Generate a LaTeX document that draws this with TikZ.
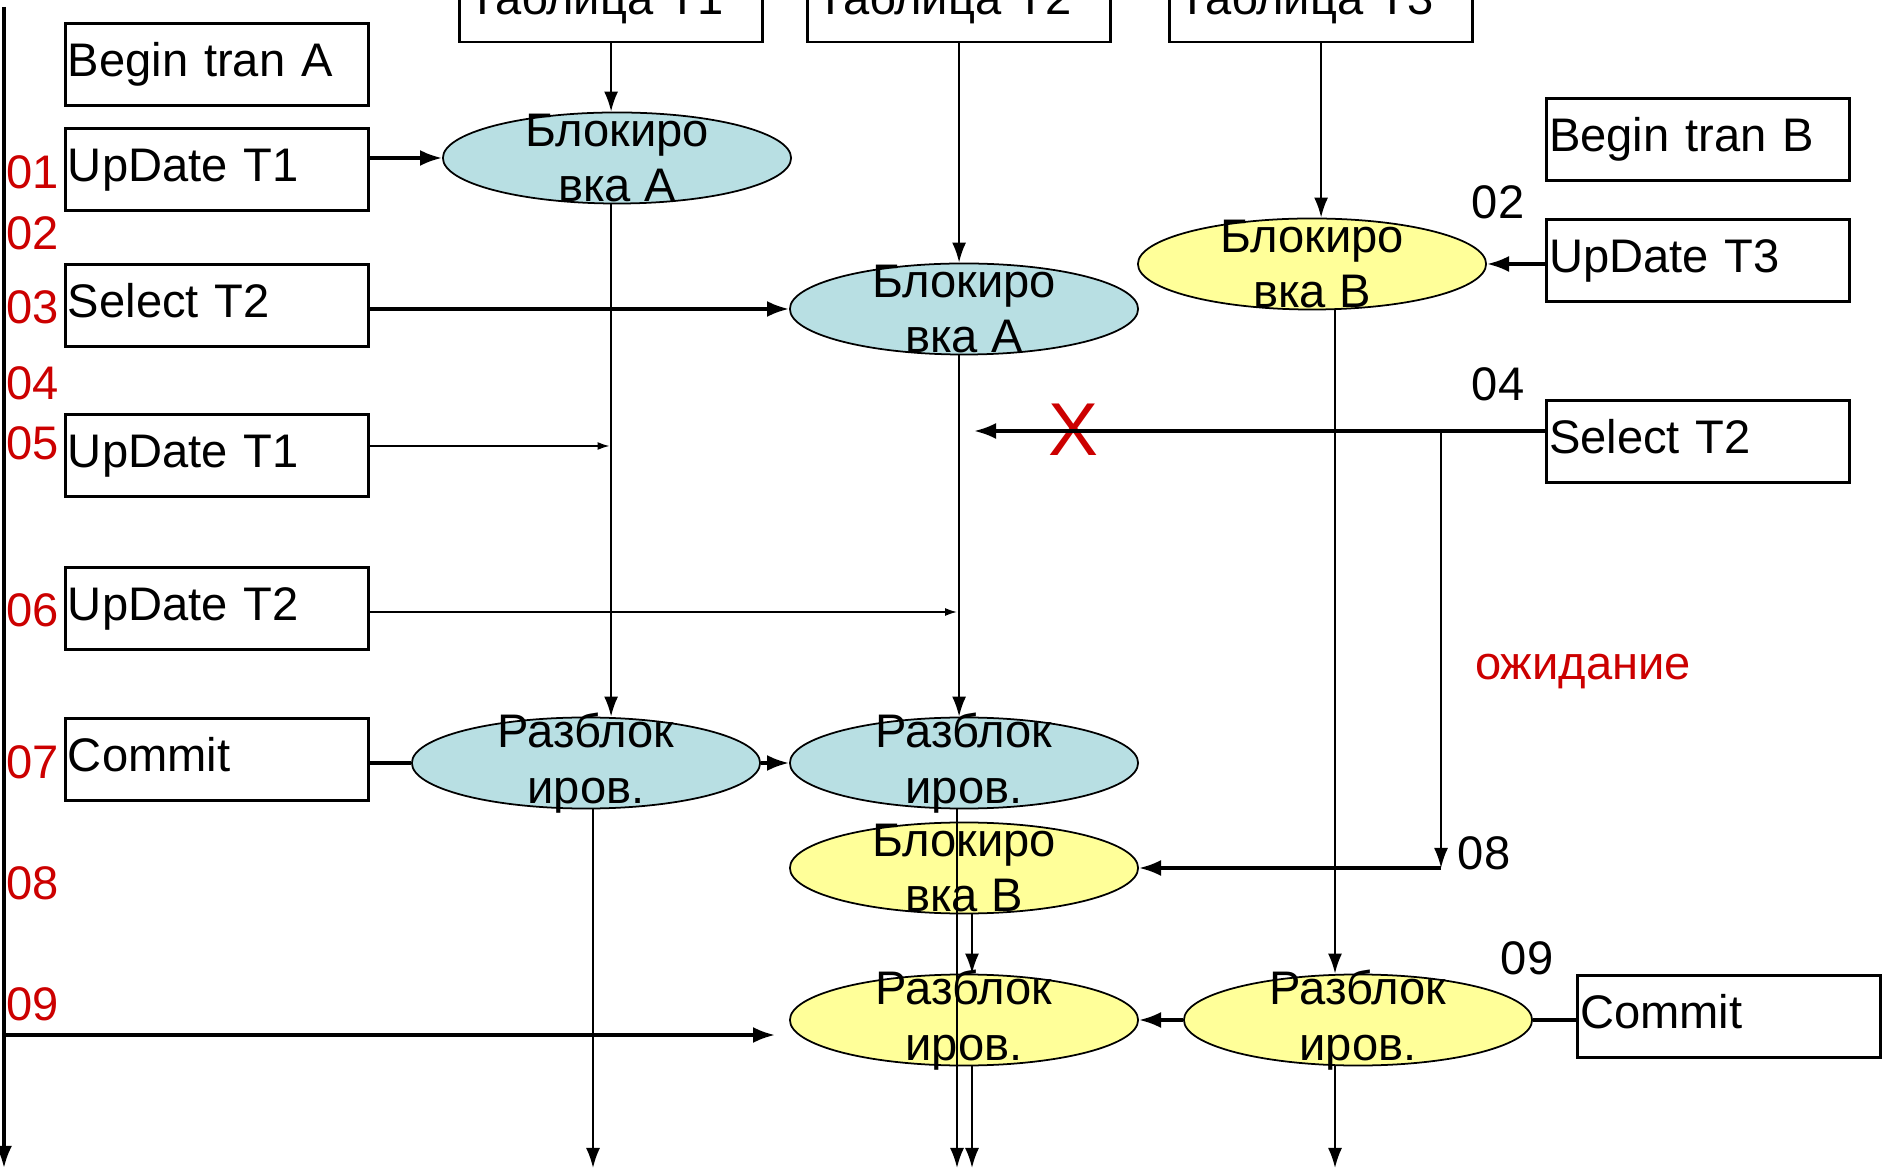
\documentclass[tikz,border=0pt]{standalone}
\usepackage{fontspec}
\setmainfont{Liberation Sans}
\usetikzlibrary{shapes.geometric,arrows.meta}
\definecolor{lockblue}{HTML}{B8DFE3}
\definecolor{lockyellow}{HTML}{FFFF99}
\definecolor{stepred}{HTML}{CC0000}
\newcommand{\boxfont}{\fontsize{13.4}{15.9}\selectfont}

\begin{document}
\begin{tikzpicture}[
  x=0.01cm,y=-0.01cm,
  opbox/.style={draw,line width=0.85pt,anchor=north west,text width=2.98cm,inner xsep=0.025cm,
    minimum height=0.82cm,text height=0.34cm,text depth=0.1cm,align=left,font=\boxfont},
  tblbox/.style={draw,line width=0.85pt,anchor=base west,text width=2.85cm,inner xsep=0.09cm,
    inner ysep=0.27cm,text height=0.35cm,text depth=0pt,align=left,font=\boxfont},
  oval/.style={ellipse,draw,line width=0.5pt,minimum width=3.48cm,minimum height=0.91cm,inner sep=0pt},
  blueoval/.style={oval,fill=lockblue},
  yellowoval/.style={oval,fill=lockyellow},
  otext/.style={align=center,font=\boxfont,inner sep=0pt},
  num/.style={font=\boxfont,text=stepred,anchor=west,inner sep=0pt},
  tag/.style={font=\boxfont,inner sep=0pt},
  flow/.style={line width=0.6pt,-{Latex[length=0.2cm,width=0.14cm]}},
  boldflow/.style={line width=0.95pt,-{Latex[length=0.22cm,width=0.16cm]}},
  thinflow/.style={line width=0.45pt,-{Latex[length=0.12cm,width=0.08cm]}}
]
\useasboundingbox (0,0) rectangle (1883,1168);
\clip (0,0) rectangle (1883,1168);

\node[tblbox] (t1) at (458,15) {Таблица T1};
\node[tblbox] (t2) at (806,15) {Таблица T2};
\node[tblbox] (t3) at (1168,15) {Таблица T3};

\node[opbox] (begA) at (64,22) {Begin tran A};
\node[opbox] (updA1) at (64,127) {UpDate T1};
\node[opbox] (selA) at (64,263) {Select T2};
\node[opbox] (upd05) at (64,413) {UpDate T1};
\node[opbox] (upd06) at (64,566) {UpDate T2};
\node[opbox] (comA) at (64,717) {Commit};
\node[opbox] (begB) at (1545,97) {Begin tran B};
\node[opbox] (updB3) at (1545,218) {UpDate T3};
\node[opbox] (selB) at (1545,399) {Select T2};
\node[opbox] (comB) at (1576,974) {Commit};

\node[blueoval,label={[otext]center:Блокиро\\вка А}] (l1) at (617,158) {};
\node[blueoval,label={[otext]center:Блокиро\\вка А}] (l2) at (964,309) {};
\node[yellowoval,label={[otext]center:Блокиро\\вка В}] (l3) at (1312,264) {};
\node[blueoval,label={[otext]center:Разблок\\иров.}] (u1) at (586,763) {};
\node[blueoval,label={[otext]center:Разблок\\иров.}] (u2) at (964,763) {};
\node[yellowoval,label={[otext]center:Блокиро\\вка В}] (l4) at (964,868) {};
\node[yellowoval,label={[otext]center:Разблок\\иров.}] (u4) at (964,1020) {};
\node[yellowoval,label={[otext]center:Разблок\\иров.}] (u3) at (1358,1020) {};

\foreach \n/\y in {01/172,02/233,03/307,04/383,05/443,06/610,07/762,08/883,09/1004}
  \node[num] (n\n) at (6,\y) {\n};
\node[tag] (b02) at (1498,202) {02};
\node[tag] (b04) at (1498,384) {04};
\node[tag] (b08) at (1484,853) {08};
\node[tag] (b09) at (1527,958) {09};
\node[font=\boxfont,text=stepred,anchor=base] (wait) at (1583,680) {ожидание};
\node[font=\fontsize{21.3}{24}\selectfont,text=stepred,inner sep=0pt] (cross) at (1073,430) {X};

\coordinate (tlTop) at (4,7);
\coordinate (tlEnd) at (4,1168);
\coordinate (h05) at (609.5,446);
\coordinate (h06) at (957,612);
\coordinate (h09) at (775,1035);
\coordinate (stopX) at (974,431);
\coordinate (fork) at (1441,431);
\coordinate (turn) at (1441,868);
\coordinate (end1) at (593,1168);
\coordinate (end2) at (957,1168);
\coordinate (end4) at (972,1168);
\coordinate (end3) at (1335,1168);

\draw[boldflow] (tlTop) -- (tlEnd);
\draw[boldflow] (tlTop |- h09) -- (h09);
\draw[flow] (t1) -- (t1 |- l1.north);
\draw[flow] (t2) -- (t2 |- l2.north);
\draw[flow] (t3) -- (t3 |- l3.north);
\draw[boldflow] (updA1.east |- l1.west) -- (l1.west);
\draw[boldflow] (selA.east |- l2.west) -- (l2.west);
\draw[boldflow] (updB3.west |- l3.east) -- (l3.east);
\draw[flow] (t1 |- l1.south) -- (t1 |- u1.north);
\draw[flow] (t2 |- l2.south) -- (t2 |- u2.north);
\draw[flow] (end3 |- l3.south) -- (end3 |- u3.north);
\draw[thinflow] (upd05.east |- h05) -- (h05);
\draw[thinflow] (upd06.east |- h06) -- (h06);
\draw[line width=0.95pt] (comA.east |- u1.west) -- (u1.west);
\draw[boldflow] (u1) -- (u2);
\draw[flow] (end1 |- u1.south) -- (end1);
\draw[flow] (end2 |- u2.south) -- (end2);
\draw[boldflow] (selB.west |- stopX) -- (stopX);
\draw[flow] (fork) -- (turn);
\draw[boldflow] (turn) -- (l4.east);
\draw[flow] (end4 |- l4.south) -- (end4 |- u4.north);
\draw[flow] (end4 |- u4.south) -- (end4);
\draw[line width=0.95pt] (comB.west |- u3.east) -- (u3.east);
\draw[boldflow] (u3) -- (u4);
\draw[flow] (end3 |- u3.south) -- (end3);
\end{tikzpicture}
\end{document}
